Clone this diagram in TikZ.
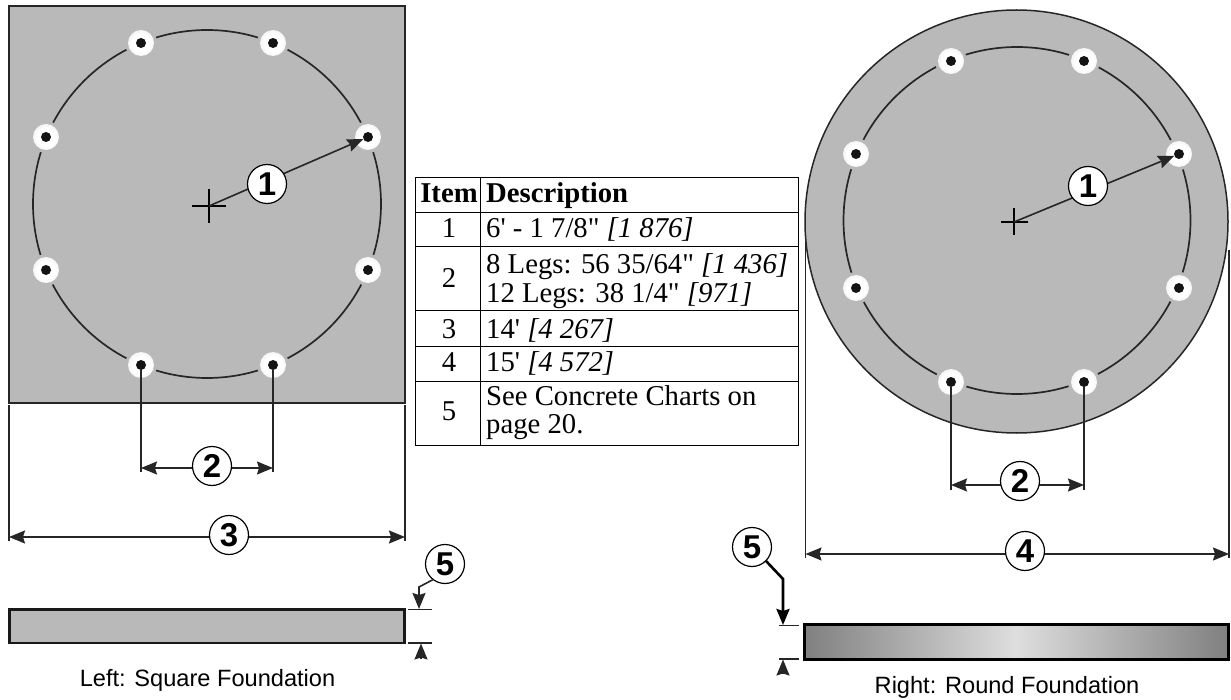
\documentclass[tikz,border=0pt]{standalone}
\usepackage{fontspec}
\setmainfont{Liberation Serif}[Ligatures=TeXOff]
\setsansfont{Liberation Sans}
\usetikzlibrary{arrows.meta}
\definecolor{plate}{HTML}{B9B9B9}
\definecolor{ink}{HTML}{262626}
\pgfdeclareradialshading{boltglow}{\pgfpoint{0bp}{0bp}}{color(0bp)=(white); color(17bp)=(white); color(28bp)=(white!80!plate); color(50bp)=(plate); color(100bp)=(plate)}
\pgfdeclarehorizontalshading{barshade}{100bp}{color(0bp)=(black!50); color(25bp)=(black!50); color(50bp)=(black!13); color(75bp)=(black!50); color(100bp)=(black!50)}
\tikzset{
  px/.style={x=1pt,y=-1pt},
  edge/.style={draw=ink,line width=1.5pt},
  dim/.style={draw=ink,line width=1.6pt},
  dimarrows/.style={dim,{Stealth[length=16pt,width=13pt,inset=2pt]}-{Stealth[length=16pt,width=13pt,inset=2pt]}},
  onearrow/.style={dim,-{Stealth[length=16pt,width=13pt,inset=2pt]}},
  callout/.style={circle,draw=black,line width=1.2pt,fill=white,minimum size=39pt,inner sep=0pt,font=\sffamily\bfseries\fontsize{33}{33}\selectfont},
  rulez/.style={draw=black,line width=1pt},
  cell/.style={anchor=base west,inner sep=0pt,font=\fontsize{28.7}{29}\selectfont},
  numcell/.style={anchor=base,inner sep=0pt,font=\fontsize{28.7}{29}\selectfont},
  boldcell/.style={inner sep=0pt,font=\bfseries\fontsize{28.7}{29}\selectfont},
  captionz/.style={anchor=base,inner sep=0pt,font=\sffamily\fontsize{23.6}{24}\selectfont},
  boltdot/.style={circle,fill=black!92,minimum size=10pt,inner sep=0pt},
}
\newcommand{\boltat}[2]{%
  \fill[plate] (#1) circle (16pt);
  \shade[shading=boltglow] (#1) circle (13pt);
  \node[boltdot] (#2) at (#1) {};
}
\begin{document}
\begin{tikzpicture}[px]
\useasboundingbox (0,0) rectangle (1231,700);
\fill[white] (0,0) rectangle (1231,700);
% ---------- left plan
\draw[edge,fill=plate] (9,6) rectangle (405,403);
\draw[ink,line width=1.7pt] (207,204) circle (174pt);
\foreach \p/\n in {{141,43}/la,{273,43}/lb,{46,137}/lc,{368,137}/ld,{46,270}/le,{368,270}/lf,{141,365}/lg,{273,365}/lh}{%
  \boltat{\p}{\n}
}
\coordinate (lcen) at (209,206);
\draw[black,line width=1.8pt] (192,206) -- (226,206) (209,189) -- (209,223);
\draw[onearrow] (lcen) -- (ld);
% left dimensions
\coordinate (lg2) at (141,472);
\coordinate (lh2) at (273,472);
\coordinate (l2a) at (141,468);
\coordinate (l2b) at (273,468);
\draw[dim] (lg) -- (lg2);
\draw[dim] (lh) -- (lh2);
\draw[dimarrows] (l2a) -- (l2b);
\coordinate (l3at) at (9,405);
\coordinate (l3ab) at (9,541);
\coordinate (l3bt) at (405,405);
\coordinate (l3bb) at (405,541);
\coordinate (l3a) at (9,537);
\coordinate (l3b) at (405,537);
\draw[dim] (l3at) -- (l3ab);
\draw[dim] (l3bt) -- (l3bb);
\draw[dimarrows] (l3a) -- (l3b);
\node[callout] (L1) at (267,184) {1};
\node[callout] (L2) at (212,466) {2};
\node[callout] (L3) at (229,535) {3};
\node[callout] (L5) at (445,564) {5};
% left section
\draw[black!90,line width=2.6pt,fill=plate] (9.5,609.5) rectangle (404.5,643);
\coordinate (ltt1) at (408,609.5);
\coordinate (ltt2) at (432,609.5);
\coordinate (ltb1) at (408,643);
\coordinate (ltb2) at (432,643);
\draw[dim] (ltt1) -- (ltt2);
\draw[dim] (ltb1) -- (ltb2);
\coordinate (l5k) at (419,587);
\coordinate (l5t) at (419,609);
\draw[onearrow] (L5.232) -- (l5k) -- (l5t);
\coordinate (l5bs) at (421,659);
\coordinate (l5bt) at (421,643.5);
\draw[onearrow] (l5bs) -- (l5bt);
\node[captionz] (capl) at (207.5,686) {Left: Square Foundation};
% ---------- table
\draw[rulez] (415,178) rectangle (798,445);
\draw[rulez] (480.5,178) -- (480.5,445);
\foreach \yy in {213,247,311,347,381}{\draw[rulez] (415,\yy) -- (798,\yy);}
\node[boldcell,anchor=base] (th1) at (449,203) {Item};
\node[boldcell,anchor=base west] (th2) at (486,203) {Description};
\node[numcell] (n1) at (449,238) {1};
\node[cell] (d1) at (486,238) {6' - 1 7/8" \textit{[1 876]}};
\node[numcell] (n2) at (449,288) {2};
\node[cell] (d2a) at (486,274) {8 Legs: 56 35/64" \textit{[1 436]}};
\node[cell] (d2b) at (486,303) {12 Legs: 38 1/4" \textit{[971]}};
\node[numcell] (n3) at (449,338) {3};
\node[cell] (d3) at (486,338) {14' \textit{[4 267]}};
\node[numcell] (n4) at (449,371) {4};
\node[cell] (d4) at (486,371) {15' \textit{[4 572]}};
\node[numcell] (n5) at (449,420) {5};
\node[cell] (d5a) at (486,405) {See Concrete Charts on};
\node[cell] (d5b) at (486,433) {page 20.};
% ---------- right plan
\draw[edge,fill=plate] (1016.5,221.5) circle (211.5pt);
\draw[ink,line width=1.7pt] (1017,220.5) circle (173.5pt);
\foreach \p/\n in {{951,61}/ra,{1084,61}/rb,{856,154}/rc,{1179,154}/rd,{856,288}/re,{1179,288}/rf,{951,382}/rg,{1084,382}/rh}{%
  \boltat{\p}{\n}
}
\coordinate (rcen) at (1014,222);
\draw[black,line width=1.3pt] (1001,222) -- (1028,222) (1014,208) -- (1014,235);
\draw[onearrow] (rcen) -- (rd);
% right dimensions
\coordinate (rg2) at (951,490);
\coordinate (rh2) at (1084,490);
\coordinate (r2a) at (951,485);
\coordinate (r2b) at (1084,485);
\draw[dim] (rg) -- (rg2);
\draw[dim] (rh) -- (rh2);
\draw[dimarrows] (r2a) -- (r2b);
\coordinate (r4at) at (805.5,240);
\coordinate (r4ab) at (805.5,558);
\coordinate (r4bt) at (1229,250);
\coordinate (r4bb) at (1229,558);
\coordinate (r4a) at (805.5,554);
\coordinate (r4b) at (1229,554);
\draw[dim] (r4at) -- (r4ab);
\draw[dim] (r4bt) -- (r4bb);
\draw[dimarrows] (r4a) -- (r4b);
\node[callout] (R1) at (1088,186) {1};
\node[callout] (R2) at (1020,481) {2};
\node[callout] (R4) at (1025,551) {4};
\node[callout] (R5) at (752,547) {5};
% right section
\draw[black,line width=3pt,shading=barshade,shade] (804,624.5) rectangle (1228,659);
\coordinate (rtt1) at (779,625.5);
\coordinate (rtt2) at (799,625.5);
\coordinate (rtb1) at (779,659);
\coordinate (rtb2) at (799,659);
\draw[dim] (rtt1) -- (rtt2);
\draw[dim] (rtb1) -- (rtb2);
\coordinate (r5k) at (783,579);
\coordinate (r5t) at (783,625);
\draw[onearrow,draw=black,line width=2.6pt] (R5.-45) -- (r5k) -- (r5t);
\coordinate (r5bs) at (783,673);
\coordinate (r5bt) at (783,659.5);
\draw[onearrow] (r5bs) -- (r5bt);
\node[captionz] (capr) at (1007,693) {Right: Round Foundation};
\end{tikzpicture}
\end{document}
